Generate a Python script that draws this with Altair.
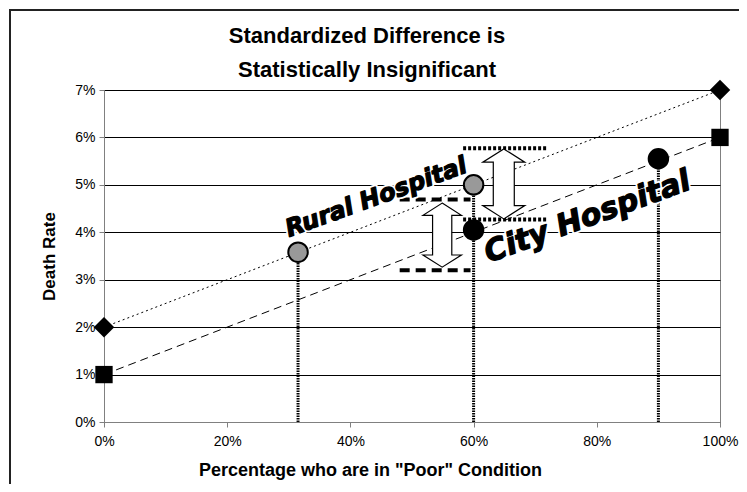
import altair as alt
import pandas as pd

# ---- data ----
line_x = [0, 100]
rural_line_y = [2, 7]
city_line_y = [1, 6]

rural_pts_x = [31.5, 60]
rural_pts_y = [3.58, 5.0]
city_pts_x = [60, 90]
city_pts_y = [4.05, 5.55]

drop_x = [31.5, 60, 90]
drop_top = [3.58, 5.0, 5.55]

dotted_bracket_y = [5.77, 4.27]
dotted_bracket_x = [58.3, 72.0]
dashed_bracket_y = [4.69, 3.2]
dashed_bracket_x = [48.0, 59.5]

arrow_x = [64.9, 54.9]
arrow_y = [5.02, 3.94]
arrow_size = [4900, 4100]

labels = ["Rural Hospital", "City Hospital"]
label_x = [44.6, 79.0]
label_y = [4.59, 4.14]
label_size = [24, 30]

title_lines = ["Standardized Difference is", "Statistically Insignificant"]

x_ticks = [0, 20, 40, 60, 80, 100]
y_ticks = [0, 1, 2, 3, 4, 5, 6, 7]

# ---- tables ----
rural_df = pd.DataFrame({"x": line_x, "y": rural_line_y})
city_df = pd.DataFrame({"x": line_x, "y": city_line_y})
rural_pts = pd.DataFrame({"x": rural_pts_x, "y": rural_pts_y})
city_pts = pd.DataFrame({"x": city_pts_x, "y": city_pts_y})
drops = pd.DataFrame({"x": drop_x, "y0": [0] * len(drop_x), "y": drop_top})
dot_br = pd.DataFrame({"x": [dotted_bracket_x[0]] * 2, "x2": [dotted_bracket_x[1]] * 2, "y": dotted_bracket_y})
dash_br = pd.DataFrame({"x": [dashed_bracket_x[0]] * 2, "x2": [dashed_bracket_x[1]] * 2, "y": dashed_bracket_y})
arrows = pd.DataFrame({"x": arrow_x, "y": arrow_y, "s": arrow_size})
texts = pd.DataFrame({"x": label_x, "y": label_y, "t": labels, "fs": label_size})

xs = alt.Scale(domain=[0, 100], nice=False)
ys = alt.Scale(domain=[0, 7], nice=False)

X = alt.X("x:Q", scale=xs, axis=alt.Axis(
    values=x_ticks, labelExpr="datum.value + '%'", grid=False, labelFlush=False,
    title='Percentage who are in "Poor" Condition', titleFontSize=18,
    titleFontWeight="bold", titlePadding=13, labelPadding=7, titleX=266,
    domainColor="#808080", tickColor="#808080", tickSize=5,
    labelFontSize=14, labelColor="black", titleColor="black"))
Y = alt.Y("y:Q", scale=ys, axis=alt.Axis(
    values=y_ticks, labelExpr="datum.value + '%'", grid=True, labelFlush=False,
    gridColor="black", gridWidth=1, title="Death Rate", titleFontSize=17,
    titleFontWeight="bold", titlePadding=16, labelPadding=4,
    domainColor="#808080", tickColor="#808080", tickSize=5,
    labelFontSize=14, labelColor="black", titleColor="black"))

border = alt.Chart(pd.DataFrame({"a": [0]})).mark_rect(
    fill=None, stroke="#222222", strokeWidth=2, clip=False
).encode(x=alt.value(-94), x2=alt.value(700), y=alt.value(-80), y2=alt.value(500))

title_df = pd.DataFrame({"t": title_lines, "py": [-47, -13]})
title_marks = alt.Chart(title_df).mark_text(
    font="Liberation Sans", fontWeight="bold", fontSize=22, color="black",
    align="center", baseline="alphabetic", clip=False
).encode(x=alt.value(263), y=alt.Y("py:Q", scale=None), text="t:N")

rural_line = alt.Chart(rural_df).mark_line(
    color="black", strokeWidth=1, strokeDash=[2, 3]).encode(x=X, y=Y)
city_line = alt.Chart(city_df).mark_line(
    color="black", strokeWidth=1, strokeDash=[8, 5]).encode(x=X, y=Y)

drop_lines = alt.Chart(drops).mark_rule(
    color="black", strokeWidth=3, strokeDash=[1.5, 1]).encode(
    x=alt.X("x:Q", scale=xs), y=alt.Y("y0:Q", scale=ys), y2="y:Q")

dot_rules = alt.Chart(dot_br).mark_rule(
    color="black", strokeWidth=4, strokeDash=[3, 2]).encode(
    x=alt.X("x:Q", scale=xs), x2="x2:Q", y=alt.Y("y:Q", scale=ys))
dash_rules = alt.Chart(dash_br).mark_rule(
    color="black", strokeWidth=4, strokeDash=[10, 6]).encode(
    x=alt.X("x:Q", scale=xs), x2="x2:Q", y=alt.Y("y:Q", scale=ys))

diamonds = alt.Chart(rural_df).mark_point(
    shape="diamond", filled=True, color="black", size=420, opacity=1).encode(x=X, y=Y)
squares = alt.Chart(city_df).mark_point(
    shape="square", filled=True, color="black", size=300, opacity=1).encode(x=X, y=Y)

gray_circ = alt.Chart(rural_pts).mark_point(
    shape="circle", filled=True, fill="#999999", stroke="black", strokeWidth=2,
    size=380, opacity=1).encode(x=X, y=Y)
black_circ = alt.Chart(city_pts).mark_point(
    shape="circle", filled=True, color="black", size=460, opacity=1).encode(x=X, y=Y)

arrow_path = ("M0,-1 L0.6,-0.62 L0.3,-0.62 L0.3,0.62 L0.6,0.62 L0,1 "
              "L-0.6,0.62 L-0.3,0.62 L-0.3,-0.62 L-0.6,-0.62 Z")
arrow_marks = alt.Chart(arrows).mark_point(
    shape=arrow_path, filled=True, fill="white", stroke="black", strokeWidth=1.2,
    opacity=1, strokeOpacity=1, fillOpacity=1).encode(
    x=X, y=Y, size=alt.Size("s:Q", scale=None, legend=None))

text_halo = alt.Chart(texts).mark_text(
    font="DejaVu Sans", fontWeight="bold", fontStyle="italic", angle=340,
    align="center", baseline="alphabetic", fill="white", stroke="white",
    strokeWidth=5, strokeJoin="round").encode(
    x=X, y=Y, text="t:N", size=alt.Size("fs:Q", scale=None, legend=None))
text_main = alt.Chart(texts).mark_text(
    font="DejaVu Sans", fontWeight="bold", fontStyle="italic", angle=340,
    align="center", baseline="alphabetic", fill="black", stroke="black",
    strokeWidth=1.3, strokeJoin="round").encode(
    x=X, y=Y, text="t:N", size=alt.Size("fs:Q", scale=None, legend=None))

chart = alt.layer(
    border, title_marks, rural_line, city_line, drop_lines, dot_rules, dash_rules,
    diamonds, squares, gray_circ, black_circ, arrow_marks, text_halo, text_main
).properties(
    width=616, height=332,
    autosize=alt.AutoSizeParams(type="none"),
    padding={"left": 96, "top": 82, "right": 19, "bottom": 62},
).configure(
    font="Liberation Sans",
    background="white",
).configure_view(
    stroke="#808080", strokeWidth=1
).configure_axis(
    labelFont="Liberation Sans", titleFont="Liberation Sans"
)

chart.save("out.html", embed_options={"renderer": "svg", "actions": False})
